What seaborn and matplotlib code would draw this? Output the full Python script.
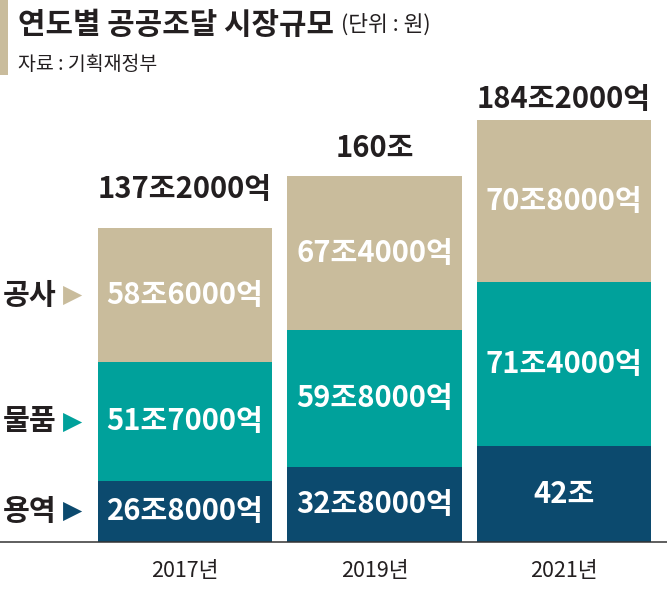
import matplotlib
matplotlib.use("Agg")
import matplotlib.pyplot as plt
from matplotlib.patches import Rectangle
import matplotlib.transforms as mtransforms
import seaborn as sns
import pandas as pd

# ---------------- data ----------------
years = ["2017년", "2019년", "2021년"]
service = [26.8, 32.8, 42.0]        # 용역
goods = [51.7, 59.8, 71.4]          # 물품
construction = [58.6, 67.4, 70.8]   # 공사
totals = [137.2, 160.0, 184.2]
service_labels = ["26조8000억", "32조8000억", "42조"]
goods_labels = ["51조7000억", "59조8000억", "71조4000억"]
construction_labels = ["58조6000억", "67조4000억", "70조8000억"]
total_labels = ["137조2000억", "160조", "184조2000억"]
series_names = ["공사", "물품", "용역"]
title = "연도별 공공조달 시장규모"
unit = "(단위 : 원)"
source = "자료 : 기획재정부"

# ---------------- style ----------------
sns.set_theme(style="white")
plt.rcParams["font.family"] = ["Noto Sans CJK KR", "DejaVu Sans"]

BEIGE = "#c9bc9c"
TEAL = "#00a19b"
NAVY = "#0c4a6e"
INK = "#231f20"

W, H = 667, 591
fig = plt.figure(figsize=(W / 100, H / 100), dpi=100)
fig.patch.set_facecolor("white")

base_px = 542
ax = fig.add_axes([0, (H - base_px) / H, 1, base_px / H])
ax.set_facecolor("white")

df = pd.DataFrame({
    "year": years,
    "service": service,
    "goods": goods,
    "construction": construction,
    "total": totals,
})
df["cum_goods"] = df["service"] + df["goods"]
df["cum_all"] = df["cum_goods"] + df["construction"]

bar_w = 0.92
for col, c in [("cum_all", BEIGE), ("cum_goods", TEAL), ("service", NAVY)]:
    sns.barplot(data=df, x="year", y=col, order=years, color=c,
                saturation=1, width=bar_w, errorbar=None, ax=ax,
                linewidth=0)

px_per_unit = 2.289
ax.set_ylim(0, base_px / px_per_unit)
center0, step = 185, 189.5
ax.set_xlim(-center0 / step, (W - center0) / step)

for s in ["top", "right", "left"]:
    ax.spines[s].set_visible(False)
ax.spines["bottom"].set_color("#333333")
ax.spines["bottom"].set_linewidth(1.1)
ax.set_xlabel("")
ax.set_ylabel("")
ax.set_yticks([])
ax.tick_params(axis="x", length=0, pad=13, labelsize=15.5, labelcolor=INK)
for lbl in ax.get_xticklabels():
    lbl.set_fontweight("normal")

# segment labels
seg_fs = 21
for i in range(len(years)):
    s, g, c = service[i], goods[i], construction[i]
    ax.text(i, s / 2, service_labels[i], ha="center", va="center",
            color="white", fontsize=seg_fs, fontweight="bold")
    ax.text(i, s + g / 2, goods_labels[i], ha="center", va="center",
            color="white", fontsize=seg_fs, fontweight="bold")
    ax.text(i, s + g + c / 2, construction_labels[i], ha="center", va="center",
            color="white", fontsize=seg_fs, fontweight="bold")

# total labels
offsets = [24, 13, 6]
for i in range(len(years)):
    ax.annotate(total_labels[i], xy=(i, totals[i]), xytext=(0, offsets[i]),
                textcoords="offset pixels", ha="center", va="bottom",
                color=INK, fontsize=seg_fs, fontweight="bold")

# left legend aligned with 2017 segments
blend = mtransforms.blended_transform_factory(fig.transFigure, ax.transData)
centers = [service[0] + goods[0] + construction[0] / 2,
           service[0] + goods[0] / 2,
           service[0] / 2]
colors = [BEIGE, TEAL, NAVY]
for name, yc, col in zip(series_names, centers, colors):
    ax.text(3 / W, yc, name, transform=blend, ha="left", va="center",
            fontsize=21, fontweight="bold", color=INK)
    ax.text(63 / W, yc, "▶", transform=blend, ha="left", va="center",
            fontsize=18, color=col, family=["DejaVu Sans"])

# header
fig.add_artist(Rectangle((0, 1 - 75 / H), 8 / W, 75 / H,
                         transform=fig.transFigure, color=BEIGE, lw=0))
t = fig.text(18 / W, 1 - 25 / H, title, ha="left", va="center",
             fontsize=21.5, fontweight="bold", color=INK)
fig.canvas.draw()
bb = t.get_window_extent()
fig.text((bb.x1 + 7) / W, 1 - 25 / H, unit, ha="left", va="center",
         fontsize=15.5, color=INK)
fig.text(18 / W, 1 - 65 / H, source, ha="left", va="center",
         fontsize=14, color=INK)

fig.savefig("out.png", dpi=100, facecolor="white")
